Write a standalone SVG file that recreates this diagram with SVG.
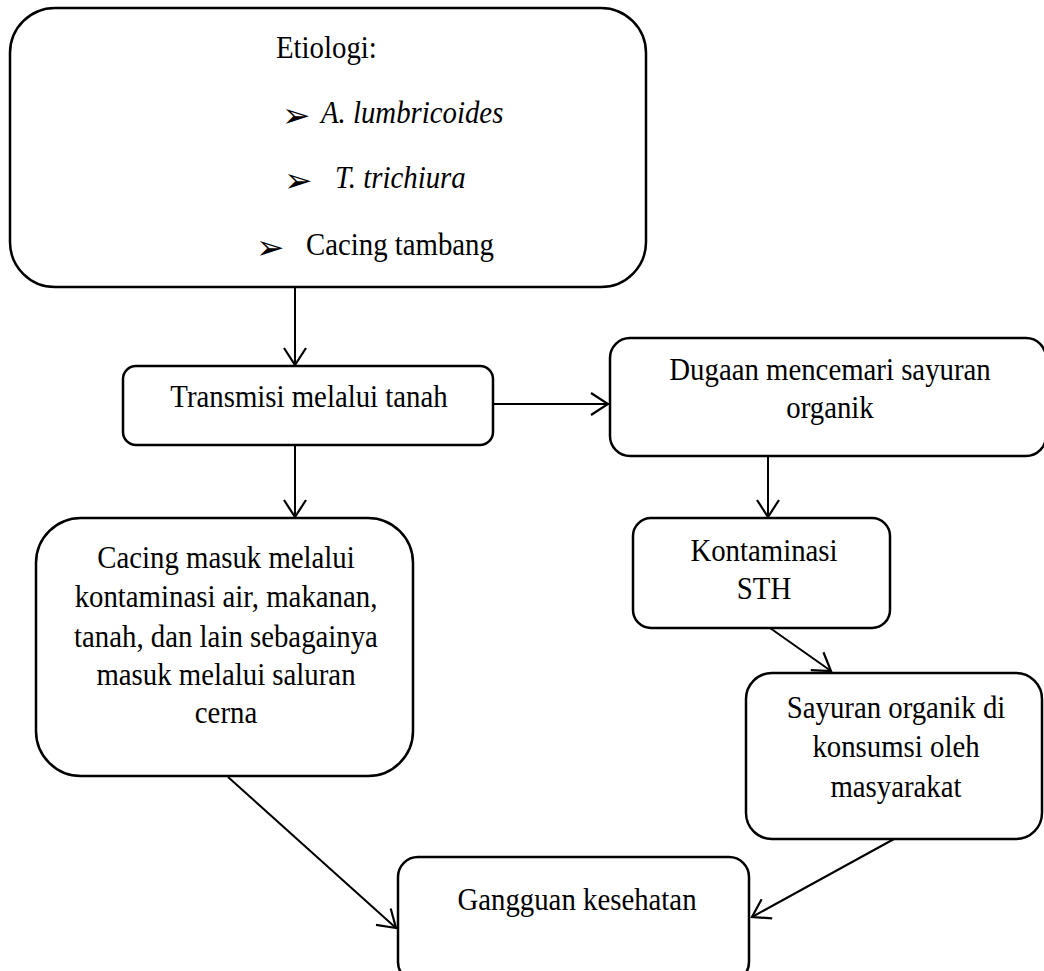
<svg xmlns="http://www.w3.org/2000/svg" width="1044" height="971" viewBox="0 0 1044 971">
<style>
.box{fill:#fff;stroke:#000;stroke-width:2.5}
.t{font-family:"Liberation Serif","Times New Roman",serif;font-size:32px;fill:#000;text-anchor:middle}
.ts{font-family:"Liberation Serif","Times New Roman",serif;font-size:32px;fill:#000}
.i{font-style:italic}
.b{font-family:"DejaVu Sans",sans-serif;font-size:34px;fill:#000}
.c{stroke:#000;stroke-width:2;fill:none;marker-end:url(#ah)}
</style>
<defs>
<marker id="ah" viewBox="0 0 20 24" markerWidth="20" markerHeight="24" refX="18" refY="12" orient="auto" markerUnits="userSpaceOnUse">
<path d="M1,1 L18,12 L1,23" fill="none" stroke="#000" stroke-width="2.2"/>
</marker>
</defs>
<rect width="1044" height="971" fill="#fff"/>
<g id="connectors">
<line class="c" x1="295" y1="288" x2="295" y2="365"/>
<line class="c" x1="493" y1="404" x2="608" y2="404"/>
<line class="c" x1="295" y1="445" x2="295" y2="517"/>
<line class="c" x1="768" y1="456" x2="768" y2="517"/>
<line class="c" x1="770" y1="628" x2="831" y2="671"/>
<line class="c" x1="228" y1="777" x2="396" y2="928"/>
<line class="c" x1="894" y1="839" x2="752" y2="917"/>
</g>
<g id="etiologi">
<rect class="box" x="10" y="8" width="636" height="279" rx="45" ry="45"/>
<text class="ts" x="276" y="58" transform="matrix(0.9 0 0 1 27.6 0)">Etiologi:</text>
<text class="b" x="282" y="127">➢</text>
<text class="ts i" x="321" y="123" transform="matrix(0.9 0 0 1 32.1 0)">A. lumbricoides</text>
<text class="b" x="284" y="192">➢</text>
<text class="ts i" x="335" y="188" transform="matrix(0.9 0 0 1 33.5 0)">T. trichiura</text>
<text class="b" x="256" y="259">➢</text>
<text class="ts" x="306" y="255" transform="matrix(0.9 0 0 1 30.6 0)">Cacing tambang</text>
</g>
<g id="transmisi">
<rect class="box" x="123" y="366" width="370" height="79" rx="13" ry="13"/>
<text class="t" x="309" y="407" transform="matrix(0.9 0 0 1 30.9 0)">Transmisi melalui tanah</text>
</g>
<g id="dugaan">
<rect class="box" x="610" y="338" width="436" height="118" rx="20" ry="20"/>
<g transform="matrix(0.9 0 0 1 83 0)">
<text class="t" x="830" y="380">Dugaan mencemari sayuran</text>
<text class="t" x="830" y="418">organik</text>
</g>
</g>
<g id="cacing">
<rect class="box" x="36" y="518" width="377" height="258" rx="45" ry="45"/>
<g transform="matrix(0.9 0 0 1 22.6 0)">
<text class="t" x="226" y="568">Cacing masuk melalui</text>
<text class="t" x="226" y="607">kontaminasi air, makanan,</text>
<text class="t" x="226" y="647">tanah, dan lain sebagainya</text>
<text class="t" x="226" y="685">masuk melalui saluran</text>
<text class="t" x="226" y="723">cerna</text>
</g>
</g>
<g id="kontaminasi">
<rect class="box" x="633" y="518" width="257" height="110" rx="18" ry="18"/>
<g transform="matrix(0.9 0 0 1 76.4 0)">
<text class="t" x="764" y="561">Kontaminasi</text>
<text class="t" x="764" y="599">STH</text>
</g>
</g>
<g id="sayuran">
<rect class="box" x="746" y="673" width="296" height="166" rx="26" ry="26"/>
<g transform="matrix(0.9 0 0 1 89.6 0)">
<text class="t" x="896" y="718">Sayuran organik di</text>
<text class="t" x="896" y="757">konsumsi oleh</text>
<text class="t" x="896" y="797">masyarakat</text>
</g>
</g>
<g id="gangguan">
<rect class="box" x="398" y="857" width="351" height="125" rx="20" ry="20"/>
<text class="t" x="577" y="910" transform="matrix(0.9 0 0 1 57.7 0)">Gangguan kesehatan</text>
</g>
</svg>
